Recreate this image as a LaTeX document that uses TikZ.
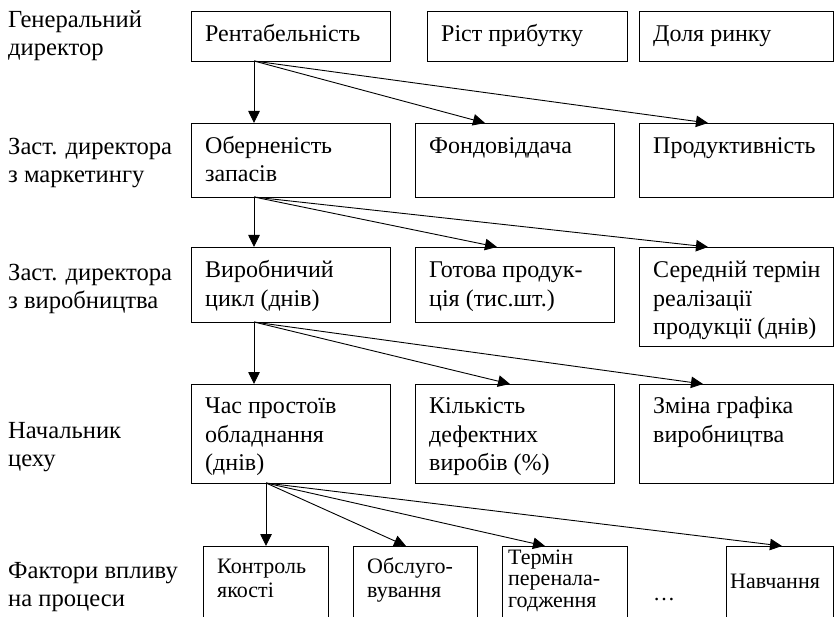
\documentclass[tikz,border=0pt]{standalone}
\usepackage{fontspec}
\setmainfont{Liberation Serif}
\usetikzlibrary{arrows.meta}
% top-aligned multi-line cell text: the node's base is the first line's baseline
\newcommand\celltext[1]{\parbox[t]{9cm}{\raggedright #1}}
\begin{document}
\begin{tikzpicture}[x=1pt,y=-1pt,
  box/.style={draw, line width=0.9pt, anchor=north west, inner sep=0pt, outer sep=0pt},
  body/.style={anchor=base west, inner sep=0pt, font=\fontsize{24}{28.5}\selectfont},
  small/.style={anchor=base west, inner sep=0pt, font=\fontsize{22}{24}\selectfont},
  role/.style={anchor=base west, inner sep=0pt, font=\fontsize{24.6}{28}\selectfont},
  link/.style={line width=0.9pt, -{Triangle[length=12pt,width=11.5pt]}}]
\useasboundingbox (0,0) rectangle (834,617);

% role labels on the left
\node[role] (l1) at (8,28)  {\celltext{Генеральний\\директор}};
\node[role] (l2) at (8,155) {\celltext{Заст. директора\\з маркетингу}};
\node[role] (l3) at (8,280) {\celltext{Заст. директора\\з виробництва}};
\node[role] (l4) at (8,438) {\celltext{Начальник\\цеху}};
\node[role] (l5) at (8,578) {\celltext{Фактори впливу\\на процеси}};

% level 1
\node[box, minimum width=199pt, minimum height=50pt] (r1a) at (191,11) {};
\node[box, minimum width=200pt, minimum height=50pt] (r1b) at (427,11) {};
\node[box, minimum width=194.5pt, minimum height=50pt] (r1c) at (639,11) {};
% level 2
\node[box, minimum width=199pt, minimum height=74pt] (r2a) at (191,123) {};
\node[box, minimum width=199pt, minimum height=74pt] (r2b) at (415,123) {};
\node[box, minimum width=194.5pt, minimum height=74pt] (r2c) at (639,123) {};
% level 3
\node[box, minimum width=199pt, minimum height=75pt] (r3a) at (191,247) {};
\node[box, minimum width=199pt, minimum height=75pt] (r3b) at (415,247) {};
\node[box, minimum width=194.5pt, minimum height=99pt] (r3c) at (639,247) {};
% level 4
\node[box, minimum width=199pt, minimum height=99pt] (r4a) at (191,384) {};
\node[box, minimum width=199pt, minimum height=99pt] (r4b) at (415,384) {};
\node[box, minimum width=194.5pt, minimum height=99pt] (r4c) at (639,384) {};
% level 5 (runs past the lower edge)
\node[box, minimum width=125pt, minimum height=80pt] (r5a) at (203,546) {};
\node[box, minimum width=124pt, minimum height=80pt] (r5b) at (353,546) {};
\node[box, minimum width=125pt, minimum height=80pt] (r5c) at (502,546) {};
\node[box, minimum width=107.5pt, minimum height=80pt] (r5d) at (726,546) {};

% texts in the boxes
\node[body] (t1a) at ([shift={(14,30.5)}]r1a.north west) {\celltext{Рентабельність}};
\node[body] (t1b) at ([shift={(14,30.5)}]r1b.north west) {\celltext{Ріст прибутку}};
\node[body] (t1c) at ([shift={(14,30.5)}]r1c.north west) {\celltext{Доля ринку}};
\node[body] (t2a) at ([shift={(14,30.5)}]r2a.north west) {\celltext{Оберненість\\запасів}};
\node[body] (t2b) at ([shift={(14,30.5)}]r2b.north west) {\celltext{Фондовіддача}};
\node[body] (t2c) at ([shift={(14,30.5)}]r2c.north west) {\celltext{Продуктивність}};
\node[body] (t3a) at ([shift={(14,30.5)}]r3a.north west) {\celltext{Виробничий\\цикл (днів)}};
\node[body] (t3b) at ([shift={(14,30.5)}]r3b.north west) {\celltext{Готова продук-\\ція (тис.шт.)}};
\node[body] (t3c) at ([shift={(14,30.5)}]r3c.north west) {\celltext{Середній термін\\реалізації\\продукції (днів)}};
\node[body] (t4a) at ([shift={(14,29.5)}]r4a.north west) {\celltext{Час простоїв\\обладнання\\(днів)}};
\node[body] (t4b) at ([shift={(14,29.5)}]r4b.north west) {\celltext{Кількість\\дефектних\\виробів (\%)}};
\node[body] (t4c) at ([shift={(14,29.5)}]r4c.north west) {\celltext{Зміна графіка\\виробництва}};
\node[small] (t5a) at ([shift={(14,27)}]r5a.north west) {\celltext{Контроль\\якості}};
\node[small] (t5b) at ([shift={(14,27)}]r5b.north west) {\celltext{Обслуго-\\вування}};
\node[small, font=\fontsize{22}{21.5}\selectfont] (t5c) at ([shift={(6,18)}]r5c.north west) {\celltext{Термін\\перенала-\\годження}};
\node[small] (t5d) at ([shift={(4,42)}]r5d.north west) {\celltext{Навчання}};
\node[small] (dots) at (653,600) {…};

% connectors
\draw[link] ([xshift=63pt]r1a.south west) -- ([xshift=63pt]r2a.north west);
\draw[link] ([xshift=63pt]r1a.south west) -- ([xshift=70pt]r2b.north west);
\draw[link] ([xshift=63pt]r1a.south west) -- ([xshift=69pt]r2c.north west);

\draw[link] ([xshift=63pt]r2a.south west) -- ([xshift=63pt]r3a.north west);
\draw[link] ([xshift=63pt]r2a.south west) -- ([xshift=82pt]r3b.north west);
\draw[link] ([xshift=63pt]r2a.south west) -- ([xshift=69pt]r3c.north west);

\draw[link] ([xshift=63pt]r3a.south west) -- ([xshift=63pt]r4a.north west);
\draw[link] ([xshift=63pt]r3a.south west) -- ([xshift=95pt]r4b.north west);
\draw[link] ([xshift=63pt]r3a.south west) -- ([xshift=64pt]r4c.north west);

\draw[link] ([xshift=75pt]r4a.south west) -- ([xshift=63pt]r5a.north west);
\draw[link] ([xshift=75pt]r4a.south west) -- ([xshift=53pt]r5b.north west);
\draw[link] ([xshift=75pt]r4a.south west) -- ([xshift=43pt]r5c.north west);
\draw[link] ([xshift=75pt]r4a.south west) -- ([xshift=56pt]r5d.north west);
\end{tikzpicture}
\end{document}
